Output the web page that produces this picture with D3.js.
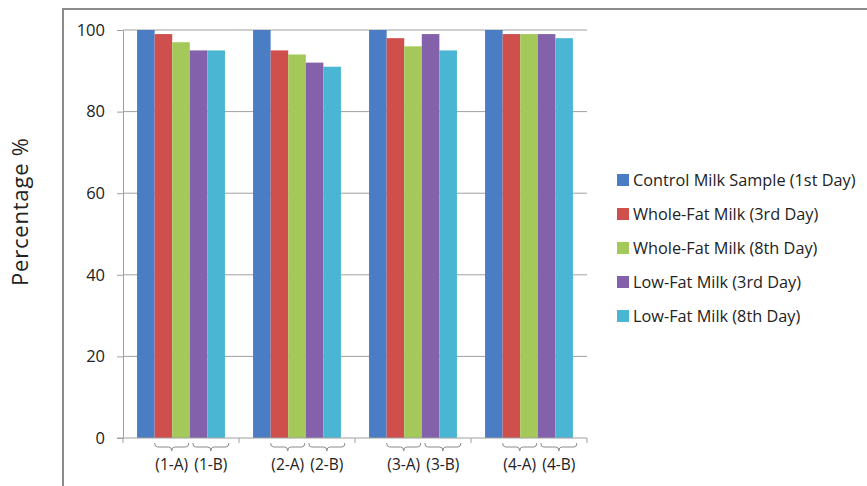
<!DOCTYPE html>
<html>
<head>
<meta charset="utf-8">
<script src="https://cdn.jsdelivr.net/npm/d3@7"></script>
<style>
  html, body { margin: 0; padding: 0; background: #fff; }
  svg { display: block; font-family: "Open Sans", Lato, sans-serif; }
</style>
</head>
<body>
<svg id="chart" width="867" height="486"></svg>
<script>
// Sample groups along the x axis; each has an A and a B sub-label
const groups = ["1", "2", "3", "4"];
const subLabels = ["A", "B"];

// Series (one bar per group each)
const seriesNames = [
  "Control Milk Sample (1st Day)",
  "Whole-Fat Milk (3rd Day)",
  "Whole-Fat Milk (8th Day)",
  "Low-Fat Milk (3rd Day)",
  "Low-Fat Milk (8th Day)"
];
const controlDay1   = [100, 100, 100, 100];
const wholeFatDay3  = [99, 95, 98, 99];
const wholeFatDay8  = [97, 94, 96, 99];
const lowFatDay3    = [95, 92, 99, 99];
const lowFatDay8    = [95, 91, 95, 98];
const seriesValues = [controlDay1, wholeFatDay3, wholeFatDay8, lowFatDay3, lowFatDay8];

const yTicks = [0, 20, 40, 60, 80, 100];
const colors = ["#4a7dc4", "#cf4f4d", "#a4c95a", "#8462ab", "#4bb6d3"];

const svg = d3.select("#chart");

// outer chart frame
svg.append("rect")
  .attr("x", 63).attr("y", 9)
  .attr("width", 900).attr("height", 600)
  .attr("fill", "none").attr("stroke", "#8c8c8c").attr("stroke-width", 2);

const plot = { left: 123, right: 587, top: 30, bottom: 438 };

const x0 = d3.scaleBand().domain(groups).range([plot.left, plot.right]).padding(0);
const x1 = d3.scaleBand().domain(d3.range(seriesNames.length))
  .range([0, x0.bandwidth()]).paddingInner(0).paddingOuter(0.8);
const y = d3.scaleLinear().domain([0, 100]).range([plot.bottom, plot.top]);

// gridlines
svg.append("g").selectAll("line").data(yTicks.filter(d => d > 0)).join("line")
  .attr("x1", plot.left).attr("x2", plot.right)
  .attr("y1", d => y(d)).attr("y2", d => y(d))
  .attr("stroke", "#a0a0a0").attr("stroke-width", 1);

// y axis
const yAxis = svg.append("g").attr("transform", `translate(${plot.left},0)`)
  .call(d3.axisLeft(y).tickValues(yTicks).tickSize(6).tickSizeOuter(0).tickPadding(12));
yAxis.select(".domain").attr("stroke", "#a0a0a0");
yAxis.selectAll(".tick line").attr("stroke", "#a0a0a0");
yAxis.selectAll(".tick text").attr("font-size", 16.5).attr("fill", "#222")
  .attr("font-family", "'Open Sans', sans-serif");

// bars
seriesValues.forEach((vals, si) => {
  svg.append("g").selectAll("rect").data(vals).join("rect")
    .attr("x", (d, gi) => x0(groups[gi]) + x1(si))
    .attr("width", x1.bandwidth())
    .attr("y", d => y(d))
    .attr("height", d => y(0) - y(d))
    .attr("fill", colors[si]);
});

// x axis baseline and boundary ticks
svg.append("line")
  .attr("x1", plot.left - 6).attr("x2", plot.right)
  .attr("y1", y(0)).attr("y2", y(0))
  .attr("stroke", "#a0a0a0");
const xAxis = svg.append("g").attr("transform", `translate(0,${y(0)})`)
  .call(d3.axisBottom(x0).tickSize(5).tickSizeOuter(0).tickFormat(""));
xAxis.select(".domain").remove();
xAxis.selectAll(".tick").attr("transform", d => `translate(${x0(d)},0)`);
xAxis.selectAll(".tick line").attr("stroke", "#a0a0a0");
svg.append("line")
  .attr("x1", plot.right).attr("x2", plot.right)
  .attr("y1", y(0)).attr("y2", y(0) + 5).attr("stroke", "#a0a0a0");

// curly brackets and sub-labels under each pair of bars
const braceTop = y(0) + 5, braceMid = y(0) + 9, braceTip = y(0) + 13;
function bracePath(a, b) {
  const m = (a + b) / 2;
  return `M${a},${braceTop} Q${a},${braceMid} ${a + 3},${braceMid} L${m - 3},${braceMid} Q${m},${braceMid} ${m},${braceTip} ` +
         `Q${m},${braceMid} ${m + 3},${braceMid} L${b - 3},${braceMid} Q${b},${braceMid} ${b},${braceTop}`;
}
groups.forEach(g => {
  subLabels.forEach((s, k) => {
    const a = x0(g) + x1(1 + 2 * k) + (k === 1 ? 3 : 0);
    const b = x0(g) + x1(2 + 2 * k) + x1.bandwidth() + (k === 1 ? 4 : -1);
    svg.append("path").attr("d", bracePath(a, b))
      .attr("fill", "none").attr("stroke", "#8a8a8a").attr("stroke-width", 1);
    svg.append("text")
      .attr("x", (a + b) / 2).attr("y", y(0) + 32)
      .attr("text-anchor", "middle").attr("font-size", 15.5).attr("fill", "#222")
      .text(`(${g}-${s})`);
  });
});

// y axis title
svg.append("text")
  .attr("transform", "translate(28,212) rotate(-90)")
  .attr("text-anchor", "middle").attr("font-size", 22).attr("fill", "#222")
  .attr("textLength", 148)
  .text("Percentage %");

// legend
const legend = svg.append("g").attr("transform", "translate(617,180)");
const rows = legend.selectAll("g").data(seriesNames).join("g")
  .attr("transform", (d, i) => `translate(0,${i * 34})`);
rows.append("rect").attr("x", 0).attr("y", -6).attr("width", 12).attr("height", 12)
  .attr("fill", (d, i) => colors[i]);
rows.append("text").attr("x", 16).attr("y", 0).attr("dy", "0.35em")
  .attr("font-size", 16.3).attr("fill", "#222").text(d => d);
</script>
</body>
</html>
